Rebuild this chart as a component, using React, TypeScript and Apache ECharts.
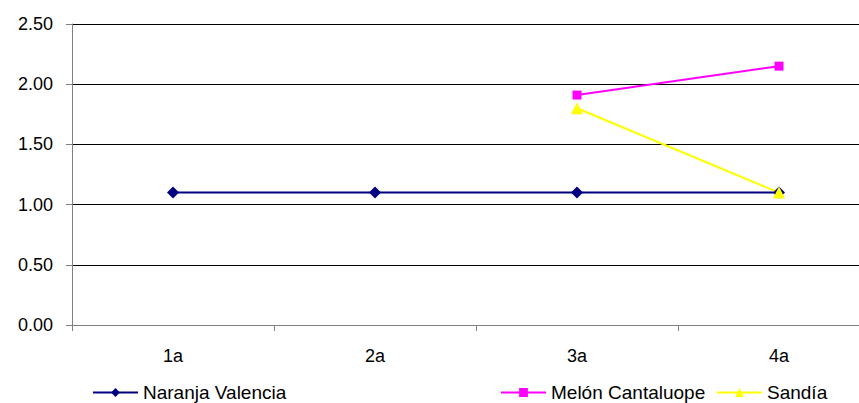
import React, { useEffect, useRef } from "react";
import * as echarts from "echarts";

const categories = ["1a", "2a", "3a", "4a"];
const naranjaValencia = [1.1, 1.1, 1.1, 1.1];
const melonCantaluope = [null, null, 1.91, 2.15];
const sandia = [null, null, 1.8, 1.1];
const seriesNames = ["Naranja Valencia", "Melón Cantaluope", "Sandía"];

const FONT = "'Liberation Sans', Arial, sans-serif";
const FS = 18;
const LFS = 19;

export default function App() {
  const ref = useRef<HTMLDivElement>(null);
  useEffect(() => {
    if (!ref.current) return;
    const chart = echarts.init(ref.current, undefined, { renderer: "svg" });
    const legendBase = {
      orient: "horizontal",
      top: 378,
      itemWidth: 45,
      itemHeight: 11,
      textStyle: { fontFamily: FONT, fontSize: LFS, color: "#000" },
    };
    chart.setOption({
      animation: false,
      backgroundColor: "#fff",
      grid: { left: 72, top: 24, right: 0, bottom: 78, containLabel: false },
      legend: [
        { ...legendBase, left: 87, data: [seriesNames[0]] },
        { ...legendBase, left: 495, data: [seriesNames[1]] },
        { ...legendBase, left: 711, data: [seriesNames[2]] },
      ],
      xAxis: {
        type: "category",
        data: categories,
        boundaryGap: true,
        axisLine: { lineStyle: { color: "#808080", width: 1 } },
        axisTick: { show: true, alignWithLabel: false, length: 6, lineStyle: { color: "#808080" } },
        axisLabel: { fontFamily: FONT, fontSize: FS, color: "#000", margin: 22 },
        splitLine: { show: false },
      },
      yAxis: {
        type: "value",
        min: 0,
        max: 2.5,
        interval: 0.5,
        axisLine: { show: true, lineStyle: { color: "#808080", width: 1 } },
        axisTick: { show: true, length: 6, lineStyle: { color: "#808080" } },
        axisLabel: {
          fontFamily: FONT,
          fontSize: FS,
          color: "#000",
          margin: 19,
          formatter: (v: number) => v.toFixed(2),
        },
        splitLine: { show: true, lineStyle: { color: "#000", width: 1 } },
      },
      series: [
        {
          name: seriesNames[0],
          type: "line",
          data: naranjaValencia,
          symbol: "diamond",
          symbolSize: 12,
          color: "#000080",
          lineStyle: { color: "#000080", width: 2 },
          itemStyle: { color: "#000080" },
        },
        {
          name: seriesNames[1],
          type: "line",
          data: melonCantaluope,
          symbol: "rect",
          symbolSize: 9,
          color: "#ff00ff",
          lineStyle: { color: "#ff00ff", width: 2 },
          itemStyle: { color: "#ff00ff" },
        },
        {
          name: seriesNames[2],
          type: "line",
          data: sandia,
          symbol: "triangle",
          symbolSize: 12,
          color: "#ffff00",
          lineStyle: { color: "#ffff00", width: 2 },
          itemStyle: { color: "#ffff00" },
        },
      ],
    });
    return () => chart.dispose();
  }, []);
  return (
    <div
      style={{
        position: "fixed",
        left: 0,
        top: 0,
        width: 859,
        height: 403,
        overflow: "hidden",
        background: "#fff",
      }}
    >
      <div ref={ref} style={{ width: 880, height: 403 }} />
    </div>
  );
}
